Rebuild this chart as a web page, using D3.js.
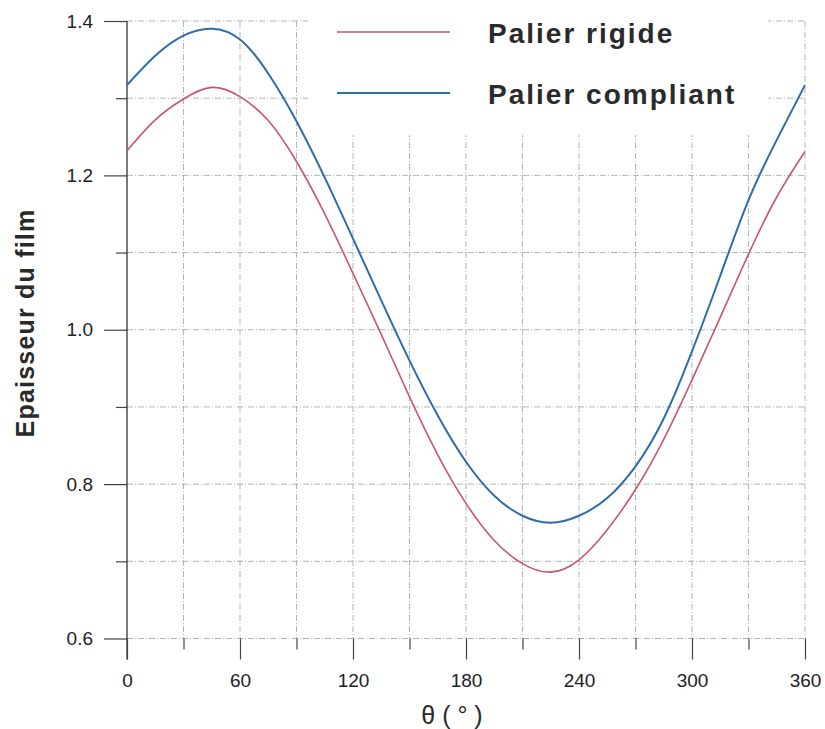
<!DOCTYPE html>
<html>
<head>
<meta charset="utf-8">
<script src="https://cdn.jsdelivr.net/npm/d3@7"></script>
<style>
  body { margin: 0; background: #fff; }
  svg { display: block; font-family: "Liberation Sans", Arial, sans-serif; }
</style>
</head>
<body>
<div id="chart"></div>
<script>
// chart data
const theta = [0, 15, 30, 45, 60, 75, 90, 105, 120, 135, 150, 165, 180, 195, 210, 225, 240, 255, 270, 285, 300, 315, 330, 345, 360];
const rigide = [1.232, 1.272, 1.299, 1.314, 1.302, 1.271, 1.218, 1.150, 1.073, 0.994, 0.913, 0.838, 0.775, 0.727, 0.697, 0.686, 0.702, 0.741, 0.793, 0.858, 0.935, 1.016, 1.098, 1.172, 1.231];
const compliant = [1.317, 1.355, 1.381, 1.390, 1.376, 1.332, 1.270, 1.197, 1.118, 1.038, 0.960, 0.889, 0.829, 0.785, 0.759, 0.750, 0.759, 0.782, 0.823, 0.885, 0.972, 1.070, 1.168, 1.246, 1.317];
const seriesNames = ["Palier rigide", "Palier compliant"];
const seriesColors = ["#c8566f", "#2f6da8"];

const xMajor = [0, 60, 120, 180, 240, 300, 360];
const xMinor = [30, 90, 150, 210, 270, 330];
const yMajor = [0.6, 0.8, 1.0, 1.2, 1.4];
const yMinor = [0.7, 0.9, 1.1, 1.3];

const width = 825;
const height = 729;

const svg = d3.select("#chart")
  .append("svg")
  .attr("width", width)
  .attr("height", height);

// scales
const x = d3.scaleLinear().domain([0, 360]).range([127, 805]);
const y = d3.scaleLinear().domain([0.6, 1.4]).range([638.5, 21]);

// grid (dash-dot, light grey)
const grid = svg.append("g")
  .attr("stroke", "#adb5c0")
  .attr("stroke-width", 1)
  .attr("stroke-dasharray", "6,2,1,2");

grid.selectAll(".vgrid")
  .data(xMajor.concat(xMinor).filter(d => d > 0))
  .enter()
  .append("line")
    .attr("x1", d => x(d)).attr("x2", d => x(d))
    .attr("y1", y(1.4)).attr("y2", y(0.6));

grid.selectAll(".hgrid")
  .data(yMajor.concat(yMinor))
  .enter()
  .append("line")
    .attr("x1", x(0)).attr("x2", x(360))
    .attr("y1", d => y(d)).attr("y2", d => y(d));

// left axis: major ticks with labels, then short minor ticks
const yAxis = svg.append("g")
  .attr("transform", `translate(${x(0)},0)`)
  .call(d3.axisLeft(y).tickValues(yMajor).tickSize(23).tickPadding(11).tickFormat(d3.format(".1f")));
yAxis.select(".domain").remove();

svg.append("g")
  .attr("transform", `translate(${x(0)},0)`)
  .call(d3.axisLeft(y).tickValues(yMinor).tickSize(11).tickFormat(""))
  .select(".domain").remove();

svg.append("line")
  .attr("x1", x(0)).attr("x2", x(0))
  .attr("y1", y(1.4)).attr("y2", y(0.6) + 21)
  .attr("stroke", "#333").attr("stroke-width", 1.3);

// bottom axis
const xAxis = svg.append("g")
  .attr("transform", `translate(0,${y(0.6)})`)
  .call(d3.axisBottom(x).tickValues(xMajor).tickSize(21).tickPadding(14));
xAxis.select(".domain").remove();

svg.append("g")
  .attr("transform", `translate(0,${y(0.6)})`)
  .call(d3.axisBottom(x).tickValues(xMinor).tickSize(11).tickFormat(""))
  .select(".domain").remove();

svg.selectAll(".tick line").attr("stroke", "#444").attr("stroke-width", 1.2);
svg.selectAll(".tick text")
  .attr("font-size", "19px")
  .attr("fill", "#222")
  .attr("font-family", "Liberation Sans, Arial, sans-serif");

// white box behind the legend, covering the grid
svg.append("rect")
  .attr("x", 308).attr("y", 0)
  .attr("width", 460).attr("height", 135)
  .attr("fill", "#fff");

// curves
const line = d3.line()
  .x((d, i) => x(theta[i]))
  .y(d => y(d))
  .curve(d3.curveNatural);

svg.append("path")
  .datum(rigide)
  .attr("fill", "none")
  .attr("stroke", seriesColors[0])
  .attr("stroke-width", 1.6)
  .attr("d", line);

svg.append("path")
  .datum(compliant)
  .attr("fill", "none")
  .attr("stroke", seriesColors[1])
  .attr("stroke-width", 2)
  .attr("d", line);

// legend
const legendY = [32, 93];
seriesNames.forEach((name, i) => {
  svg.append("line")
    .attr("x1", 337).attr("x2", 450)
    .attr("y1", legendY[i]).attr("y2", legendY[i])
    .attr("stroke", seriesColors[i])
    .attr("stroke-width", i === 0 ? 1.6 : 2);
  svg.append("text")
    .attr("x", 488).attr("y", legendY[i] + 11)
    .attr("font-size", "28px")
    .attr("font-weight", "bold")
    .attr("letter-spacing", "2px")
    .attr("fill", "#2a2a2a")
    .text(name);
});

// axis titles
svg.append("text")
  .attr("transform", "translate(34,323) rotate(-90)")
  .attr("text-anchor", "middle")
  .attr("font-size", "25px")
  .attr("font-weight", "bold")
  .attr("letter-spacing", "1.2px")
  .attr("fill", "#2a2a2a")
  .text("Epaisseur du film");

svg.append("text")
  .attr("x", 452).attr("y", 724)
  .attr("text-anchor", "middle")
  .attr("font-size", "25px")
  .attr("fill", "#2a2a2a")
  .text("θ ( ° )");
</script>
</body>
</html>
